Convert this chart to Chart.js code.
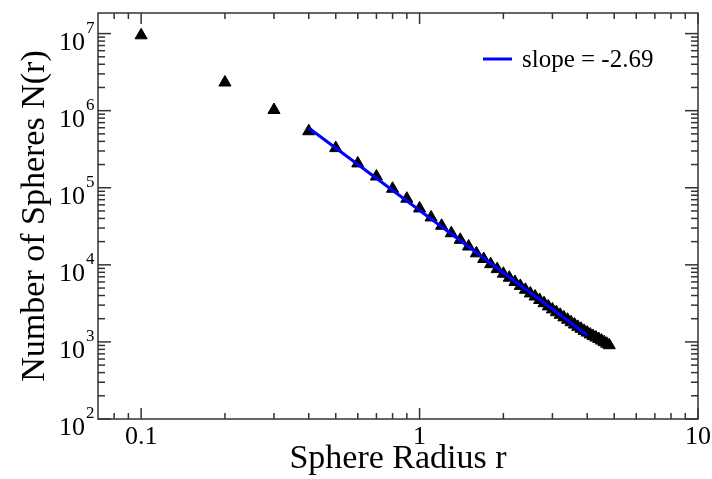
<!DOCTYPE html>
<html>
<head>
<meta charset="utf-8">
<script src="https://cdn.jsdelivr.net/npm/chart.js@4"></script>
<style>
body { margin: 0; background: #fff; }
</style>
</head>
<body>
<canvas id="sphereChart" width="712" height="479"></canvas>
<script>
// values
const radius = [0.1, 0.2, 0.3, 0.4, 0.5, 0.6, 0.7, 0.8, 0.9, 1.0,
                1.1, 1.2, 1.3, 1.4, 1.5, 1.6, 1.7, 1.8, 1.9, 2.0,
                2.1, 2.2, 2.3, 2.4, 2.5, 2.6, 2.7, 2.8, 2.9, 3.0,
                3.1, 3.2, 3.3, 3.4, 3.5, 3.6, 3.7, 3.8, 3.9, 4.0,
                4.1, 4.2, 4.3, 4.4, 4.5, 4.6, 4.7, 4.8];
const sphereCount = [9.5e6, 2.32e6, 1.02e6, 5.41e5, 3.27e5, 2.07e5, 1.40e5, 9.7e4, 7.21e4, 5.39e4,
                     4.12e4, 3.21e4, 2.57e4, 2.11e4, 1.73e4, 1.41e4, 1.19e4, 1.02e4, 8800, 7670,
                     6810, 6000, 5330, 4750, 4260, 3880, 3500, 3180, 2890, 2640,
                     2430, 2250, 2080, 1940, 1800, 1680, 1570, 1480, 1390, 1320,
                     1250, 1190, 1140, 1090, 1040, 993, 948, 906];
const fitRadius = [0.4, 4.0];
const fitCount = [5.96e5, 1230];
const xTickLabels = [0.1, 1, 10];
const yTickExponents = [2, 3, 4, 5, 6, 7];
const legendLabel = 'slope = -2.69';

const serif = "'Liberation Serif', 'Times New Roman', serif";

// frame with inward ticks on all sides, tick labels, titles and legend
const framePlugin = {
    id: 'framePlugin',
    afterDraw(chart) {
        const ctx = chart.ctx;
        const area = chart.chartArea;
        const xs = chart.scales.x;
        const ys = chart.scales.y;
        ctx.save();
        ctx.strokeStyle = '#333';
        ctx.lineWidth = 1.5;
        ctx.strokeRect(area.left, area.top, area.right - area.left, area.bottom - area.top);

        const seg = (x1, y1, x2, y2) => {
            ctx.beginPath();
            ctx.moveTo(x1, y1);
            ctx.lineTo(x2, y2);
            ctx.stroke();
        };

        for (let e = -2; e <= 1; e++) {
            for (let m = 1; m <= 9; m++) {
                const v = m * Math.pow(10, e);
                if (v <= xs.min * 1.0001 || v > xs.max * 1.0001) continue;
                const px = xs.getPixelForValue(v);
                const len = m === 1 ? 11 : 6;
                seg(px, area.bottom, px, area.bottom - len);
                seg(px, area.top, px, area.top + len);
            }
        }
        for (let e = 2; e <= 7; e++) {
            for (let m = 1; m <= 9; m++) {
                const v = m * Math.pow(10, e);
                if (v < ys.min * 0.9999 || v > ys.max) continue;
                const py = ys.getPixelForValue(v);
                const len = m === 1 ? 13 : 7;
                seg(area.left, py, area.left + len, py);
                seg(area.right, py, area.right - len, py);
            }
        }

        ctx.fillStyle = '#000';
        ctx.textBaseline = 'alphabetic';
        ctx.font = '26px ' + serif;
        ctx.textAlign = 'center';
        xTickLabels.forEach(v => {
            ctx.fillText(String(v), xs.getPixelForValue(v), area.bottom + 25);
        });

        yTickExponents.forEach(e => {
            const py = ys.getPixelForValue(Math.pow(10, e));
            ctx.font = '26px ' + serif;
            ctx.textAlign = 'right';
            ctx.fillText('10', area.left - 13, py + 16);
            ctx.font = '17px ' + serif;
            ctx.textAlign = 'left';
            ctx.fillText(String(e), area.left - 12, py - 1);
        });

        ctx.font = '34px ' + serif;
        ctx.textAlign = 'center';
        ctx.fillText('Sphere Radius r', (area.left + area.right) / 2, 468);
        ctx.save();
        ctx.translate(44, (area.top + area.bottom) / 2);
        ctx.rotate(-Math.PI / 2);
        ctx.fillText('Number of Spheres N(r)', 0, 0);
        ctx.restore();

        // legend
        ctx.strokeStyle = '#0000ff';
        ctx.lineWidth = 3;
        seg(483, 59, 512, 59);
        ctx.font = '25px ' + serif;
        ctx.textAlign = 'left';
        ctx.fillText(legendLabel, 522, 67);
        ctx.restore();
    }
};

const ctx = document.getElementById('sphereChart').getContext('2d');
new Chart(ctx, {
    type: 'scatter',
    data: {
        datasets: [{
            label: legendLabel,
            data: fitRadius.map((r, i) => ({ x: r, y: fitCount[i] })),
            showLine: true,
            borderColor: '#0000ff',
            borderWidth: 3,
            pointRadius: 0
        }, {
            label: 'N(r)',
            data: radius.map((r, i) => ({ x: r, y: sphereCount[i] })),
            pointStyle: 'triangle',
            pointRadius: 7,
            backgroundColor: '#000',
            borderColor: '#000',
            borderWidth: 1
        }]
    },
    options: {
        responsive: false,
        animation: false,
        layout: { padding: { left: 98, right: 14, top: 13, bottom: 60 } },
        plugins: {
            legend: { display: false },
            tooltip: { enabled: false }
        },
        scales: {
            x: {
                type: 'logarithmic',
                min: 0.07,
                max: 10,
                grid: { display: false, drawTicks: false },
                border: { display: false },
                ticks: { display: false }
            },
            y: {
                type: 'logarithmic',
                min: 100,
                max: 1.85e7,
                grid: { display: false, drawTicks: false },
                border: { display: false },
                ticks: { display: false }
            }
        }
    },
    plugins: [framePlugin]
});
</script>
</body>
</html>
